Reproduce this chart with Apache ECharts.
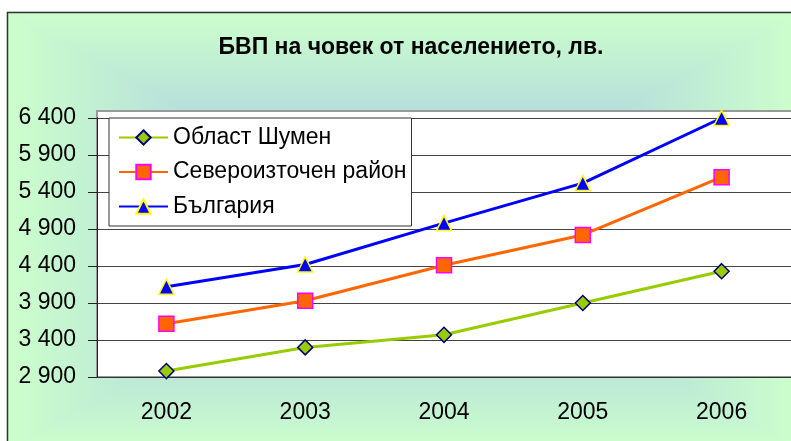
<!DOCTYPE html>
<html>
<head>
<meta charset="UTF-8">
<title>БВП на човек</title>
<script type="text/javascript" src="https://cdn.jsdelivr.net/npm/echarts@6/dist/echarts.min.js"></script>
<style>
html, body { margin: 0; padding: 0; background: #fff; }
</style>
</head>
<body>
	<div id="main" style="width: 791px;height:441px;"></div>
</body>
<script type="text/javascript">
	// данни
	var years = ['2002', '2003', '2004', '2005', '2006'];
	var shumen = [2980, 3300, 3470, 3900, 4330];
	var severoiztochen = [3620, 3930, 4410, 4820, 5600];
	var bulgaria = [4120, 4420, 4980, 5520, 6400];
	var yMin = 2900, yMax = 6400, yStep = 500;

	var myChart = echarts.init(document.getElementById('main'));

	// фон: "от центъра" градиент, направен от 4 триъгълника
	var bx0 = 7, by0 = 12, bx1 = 800, by1 = 450;
	var cx = 403, cy = 230;
	var stops = [
		{ offset: 0, color: '#A4C4E8' },
		{ offset: 0.5, color: '#B4DCDC' },
		{ offset: 1, color: '#CCFFCC' }
	];
	function grad(x, y, x2, y2) {
		return { type: 'linear', x: x, y: y, x2: x2, y2: y2, global: true, colorStops: stops };
	}
	function tri(pts, g) {
		return { type: 'polygon', z: -20, silent: true, shape: { points: pts }, style: { fill: g, stroke: g, lineWidth: 1 } };
	}

	var fmt = function (v) {
		var s = String(v);
		return s.length > 3 ? s.slice(0, s.length - 3) + ' ' + s.slice(-3) : s;
	};

	var lbl = { color: '#000', fontFamily: 'Liberation Sans, Arial', fontSize: 23 };

	option = {
		animation : false,
		title : {
			text : 'БВП на човек от населението, лв.',
			left : 406,
			top : 31,
			textAlign : 'center',
			textStyle : { fontFamily: 'Liberation Sans, Arial', fontSize: 23, fontWeight: 'bold', color: '#000' }
		},
		graphic : [
			tri([[cx, cy], [bx0, by0], [bx1, by0]], grad(cx, cy, cx, by0)),
			tri([[cx, cy], [bx1, by0], [bx1, by1]], grad(cx, cy, bx1, cy)),
			tri([[cx, cy], [bx1, by1], [bx0, by1]], grad(cx, cy, cx, by1)),
			tri([[cx, cy], [bx0, by1], [bx0, by0]], grad(cx, cy, bx0, cy)),
			{ type: 'rect', z: -15, silent: true, shape: { x: bx0 + 0.5, y: by0 + 0.5, width: bx1 - bx0, height: by1 - by0 },
				style: { fill: 'none', stroke: '#333', lineWidth: 1.5 } },
			{ type: 'rect', z: -10, silent: true, shape: { x: 97, y: 111, width: 720, height: 266 },
				style: { fill: '#fff', stroke: '#999', lineWidth: 2 } }
		],
		legend : {
			orient : 'vertical',
			left : 109,
			top : 118,
			padding : [8, 5, 8, 9],
			itemWidth : 49,
			itemHeight : 18,
			itemGap : 11.5,
			backgroundColor : '#fff',
			borderColor : '#333',
			borderWidth : 1,
			textStyle : { fontFamily: 'Liberation Sans, Arial', fontSize: 23, lineHeight: 23, color: '#000' },
			data : [ 'Област Шумен', 'Североизточен район', 'България' ]
		},
		grid : {
			left : 97,
			top : 118,
			width : 695,
			height : 259
		},
		xAxis : {
			type : 'category',
			data : years,
			boundaryGap : true,
			axisLine : { lineStyle: { color: '#333', width: 1 } },
			axisTick : { length: 8, lineStyle: { color: '#333' } },
			axisLabel : Object.assign({ margin: 24 }, lbl)
		},
		yAxis : {
			type : 'value',
			min : yMin,
			max : yMax,
			interval : yStep,
			axisLine : { show: true, lineStyle: { color: '#222', width: 1 } },
			axisTick : { show: true, length: 9, lineStyle: { color: '#222' } },
			splitLine : { lineStyle: { color: '#444', width: 1 } },
			axisLabel : Object.assign({ margin: 21, formatter: fmt }, lbl)
		},
		series : [
			{
				name : 'Област Шумен',
				type : 'line',
				data : shumen,
				symbol : 'diamond',
				symbolSize : 15,
				color : '#99CC00',
				lineStyle : { width: 3, color: '#99CC00' },
				itemStyle : { color: '#99CC00', borderColor: '#000080', borderWidth: 1.5 }
			},
			{
				name : 'Североизточен район',
				type : 'line',
				data : severoiztochen,
				symbol : 'rect',
				symbolSize : 15,
				color : '#FF6600',
				lineStyle : { width: 3, color: '#FF6600' },
				itemStyle : { color: '#FF6600', borderColor: '#FF00FF', borderWidth: 1.5 }
			},
			{
				name : 'България',
				type : 'line',
				data : bulgaria,
				symbol : 'triangle',
				symbolSize : 15,
				color : '#0000FF',
				lineStyle : { width: 3, color: '#0000FF' },
				itemStyle : { color: '#0000FF', borderColor: '#FFFF00', borderWidth: 1.5 }
			}
		]
	};
	myChart.setOption(option);
</script>
</html>
